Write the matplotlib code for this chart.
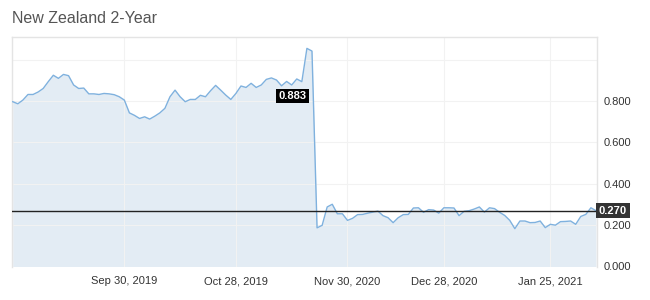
import matplotlib
matplotlib.use("Agg")
import matplotlib.pyplot as plt
import numpy as np

plt.rcParams['font.family'] = ['Liberation Sans', 'DejaVu Sans']

title = "New Zealand 2-Year"
values = [
    0.797, 0.787, 0.805, 0.832, 0.832, 0.844, 0.861, 0.894, 0.925, 0.910,
    0.929, 0.923, 0.878, 0.861, 0.863, 0.835, 0.835, 0.832, 0.837, 0.835,
    0.831, 0.821, 0.805, 0.743, 0.731, 0.716, 0.724, 0.713, 0.727, 0.743,
    0.765, 0.821, 0.853, 0.821, 0.797, 0.808, 0.808, 0.828, 0.821, 0.850,
    0.876, 0.853, 0.829, 0.808, 0.837, 0.873, 0.866, 0.886, 0.866, 0.878,
    0.905, 0.912, 0.902, 0.874, 0.895, 0.878, 0.907, 0.894, 1.055, 1.042,
    0.187, 0.199, 0.288, 0.301, 0.255, 0.255, 0.223, 0.233, 0.251, 0.252,
    0.258, 0.263, 0.268, 0.246, 0.236, 0.212, 0.236, 0.251, 0.252, 0.283,
    0.284, 0.262, 0.275, 0.273, 0.258, 0.284, 0.284, 0.283, 0.246, 0.267,
    0.270, 0.278, 0.288, 0.263, 0.284, 0.280, 0.262, 0.247, 0.223, 0.183,
    0.220, 0.220, 0.212, 0.213, 0.220, 0.188, 0.204, 0.200, 0.217, 0.218,
    0.220, 0.204, 0.242, 0.252, 0.284, 0.270,
]
tick_index = [22, 44, 66, 85, 106]
tick_labels = ["Sep 30, 2019", "Oct 28, 2019", "Nov 30, 2020", "Dec 28, 2020", "Jan 25, 2021"]
y_ticks = [0.0, 0.2, 0.4, 0.6, 0.8]
grid_y = [0.2, 0.4, 0.6, 0.8, 1.0]
last_value = 0.270
marker_label = "0.883"
marker_pos = (55.2, 0.824)

fig = plt.figure(figsize=(6.5, 3.0), dpi=100)
ax = fig.add_axes([12/650, 1-266.5/300, (597-12)/650, (266.5-37)/300])

x = np.arange(len(values))
ax.fill_between(x, values, 0, color='#e3ecf4', linewidth=0, zorder=1)
ax.plot(x, values, color='#7fb1de', linewidth=1.0, zorder=3)

ax.set_xlim(-0.15, len(values) - 1 + 0.2)
ax.set_ylim(0, 1.11)

for gy in grid_y:
    ax.axhline(gy, color='#f2f2f2', linewidth=0.8, zorder=2)
for gx in tick_index:
    ax.axvline(gx, color='#f2f2f2', linewidth=0.8, zorder=2)

ax.axhline(last_value, color='#222222', linewidth=1.0, zorder=4)

for side in ['left', 'top', 'right']:
    ax.spines[side].set_color('#e4e4e4')
    ax.spines[side].set_linewidth(1.0)
ax.spines['bottom'].set_visible(False)

ax.set_xticks(tick_index)
ax.set_xticklabels(tick_labels, fontsize=8, color='#333333')
ax.yaxis.tick_right()
ax.set_yticks(y_ticks)
ax.set_yticklabels([f"{v:.3f}" for v in y_ticks], fontsize=8, color='#333333')
ax.tick_params(axis='both', length=0)
ax.tick_params(axis='x', pad=7)
ax.tick_params(axis='y', pad=5)

ax.text(1.003, last_value, f"{last_value:.3f}", transform=ax.get_yaxis_transform(),
        fontsize=8, color='white', fontweight='bold', va='center', ha='left',
        bbox=dict(boxstyle='square,pad=0.25', fc='#333333', ec='none'), zorder=6)

ax.text(marker_pos[0], marker_pos[1], marker_label, fontsize=8, color='white',
        fontweight='bold', va='center', ha='center',
        bbox=dict(boxstyle='square,pad=0.2', fc='black', ec='none'), zorder=6)

fig.text(12/650, 1-18.5/300, title, fontsize=11.5, color='#555555', va='center', ha='left')

fig.savefig("out.png", dpi=100)
